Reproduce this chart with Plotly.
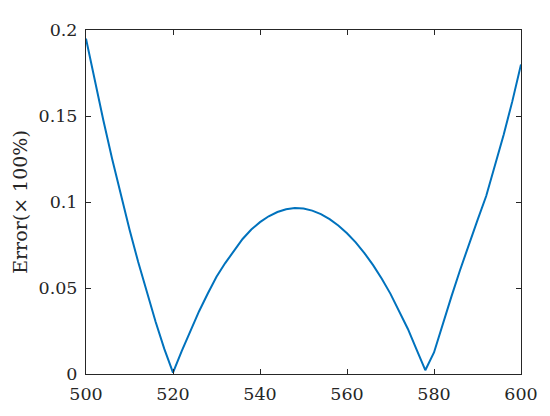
import plotly.graph_objects as go

# valores
comprimento = [500, 502, 504, 506, 508, 510, 512, 514, 516, 518, 520,
               522, 524, 526, 528, 530, 532, 534, 536, 538, 540,
               542, 544, 546, 548, 550, 552, 554, 556, 558, 560,
               562, 564, 566, 568, 570, 572, 574, 576, 578,
               580, 582, 584, 586, 588, 590, 592, 594, 596, 598, 600]
erro = [0.195, 0.1707, 0.1474, 0.1252, 0.1041, 0.0840, 0.0651, 0.0472, 0.0304, 0.0146, 0.0008,
        0.0133, 0.0253, 0.0365, 0.0468, 0.0565, 0.0645, 0.0718, 0.0785, 0.0840, 0.0883,
        0.0917, 0.0942, 0.0958, 0.0965, 0.0962, 0.0950, 0.0930, 0.0900, 0.0863, 0.0818,
        0.0765, 0.0703, 0.0633, 0.0554, 0.0466, 0.0368, 0.0262, 0.0142, 0.0022,
        0.0125, 0.0290, 0.0450, 0.0605, 0.0755, 0.0895, 0.1035, 0.1205, 0.1390, 0.1585, 0.1800]

x_ticks = [500, 520, 540, 560, 580, 600]
y_ticks = [0, 0.05, 0.1, 0.15, 0.2]
y_labels = ['0', '0.05', '0.1', '0.15', '0.2']

fig = go.Figure(go.Scatter(x=comprimento, y=erro, mode='lines',
                           line=dict(color='#0072BD', width=2)))

eixo = dict(showgrid=False, zeroline=False, showline=True, linecolor='#262626',
            linewidth=1, mirror='ticks', ticks='inside', ticklen=5, tickwidth=1,
            tickcolor='#262626', tickfont=dict(color='#262626', size=17.5))

# a página tem margem de 8px no body, por isso 542x408
fig.update_layout(
    width=542, height=408,
    margin=dict(l=72, r=22, t=12, b=38),
    plot_bgcolor='white', paper_bgcolor='white',
    font=dict(family='DejaVu Serif, Liberation Serif, serif', color='#262626'),
    showlegend=False,
    xaxis=dict(range=[500, 600], tickvals=x_ticks, ticklabelstandoff=4, **eixo),
    yaxis=dict(range=[0, 0.2], tickvals=y_ticks, ticktext=y_labels, ticklabelstandoff=4,
               title=dict(text='Error(× 100%)', font=dict(size=19), standoff=5), **eixo),
)

fig.write_html("out.html", config={'displayModeBar': False})
